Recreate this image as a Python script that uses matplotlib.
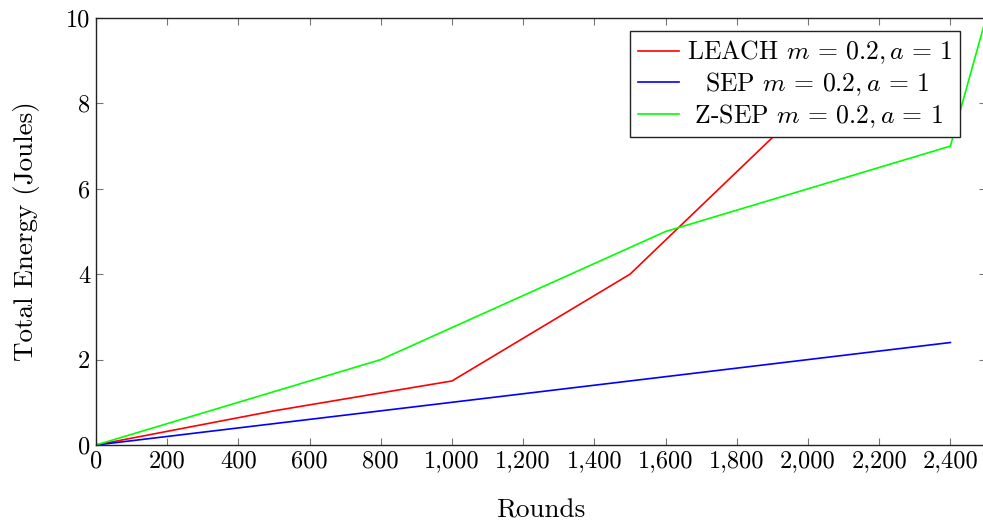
import matplotlib

matplotlib.use("Agg")
import matplotlib.pyplot as plt
from matplotlib.ticker import FuncFormatter, MultipleLocator

# data
leach_x = [0, 500, 1000, 1500, 2000]
leach_y = [0, 0.8, 1.5, 4.0, 8.0]
sep_x = [0, 500, 1000, 1500, 2000, 2400]
sep_y = [0, 0.5, 1.0, 1.5, 2.0, 2.4]
zsep_x = [0, 800, 1600, 2400, 2500]
zsep_y = [0, 2.0, 5.0, 7.0, 10.0]

names = ["LEACH", "SEP", "Z-SEP"]
params = r"$m\,=\,0.2, a\,=\,1$"

plt.rcParams["font.family"] = "serif"
plt.rcParams["font.serif"] = ["cmr10", "DejaVu Serif"]
plt.rcParams["mathtext.fontset"] = "cm"
plt.rcParams["axes.unicode_minus"] = False
plt.rcParams["axes.formatter.use_mathtext"] = True

LEG_FS = 18.5

fig = plt.figure(figsize=(9.83, 5.21), dpi=100)
# right spine sits just past the image edge, as in the cropped reference
ax = fig.add_axes([96 / 983, 76 / 521, 890 / 983, 427 / 521])

ax.plot(leach_x, leach_y, color="#ff0000", lw=1.2)
ax.plot(sep_x, sep_y, color="#0000ff", lw=1.2)
ax.plot(zsep_x, zsep_y, color="#00ff00", lw=1.2)

ax.set_xlim(0, 2500)
ax.set_ylim(0, 10)
ax.xaxis.set_major_locator(MultipleLocator(200))
ax.yaxis.set_major_locator(MultipleLocator(2))
ax.xaxis.set_major_formatter(FuncFormatter(lambda v, p: f"{int(v):,}"))
ax.yaxis.set_major_formatter(FuncFormatter(lambda v, p: f"{int(v)}"))
ax.tick_params(direction="in", top=True, right=True, length=5, width=0.8,
               color="#777777", labelsize=17.5, pad=4)
for s in ax.spines.values():
    s.set_linewidth(1.0)
    s.set_color("#222222")

ax.set_xlabel("Rounds", fontsize=19.5, labelpad=19)
ax.set_ylabel("Total Energy (Joules)", fontsize=19.5, labelpad=19)

# pgfplots centres legend text; pad shorter labels with \hspace to mimic it
renderer = fig.canvas.get_renderer()
widths = []
for n in names:
    t = fig.text(0, 0, f"{n} {params}", fontsize=LEG_FS)
    widths.append(t.get_window_extent(renderer).width)
    t.remove()
em = LEG_FS * fig.dpi / 72
labels = []
for n, w in zip(names, widths):
    pad = (max(widths) - w) / 2 / em
    prefix = rf"$\hspace{{{pad:.3f}}}$" if pad > 0.01 else ""
    labels.append(f"{prefix}{n} {params}")

for line, lab in zip(ax.get_lines(), labels):
    line.set_label(lab)

leg = ax.legend(loc="upper right", bbox_to_anchor=(0.9708, 0.9696),
                borderaxespad=0, fontsize=LEG_FS, fancybox=False, framealpha=1,
                edgecolor="#222222", handlelength=1.6, handletextpad=0.3,
                borderpad=0.3, labelspacing=0.16)
leg.get_frame().set_linewidth(1.0)

fig.savefig("out.png", dpi=100)
